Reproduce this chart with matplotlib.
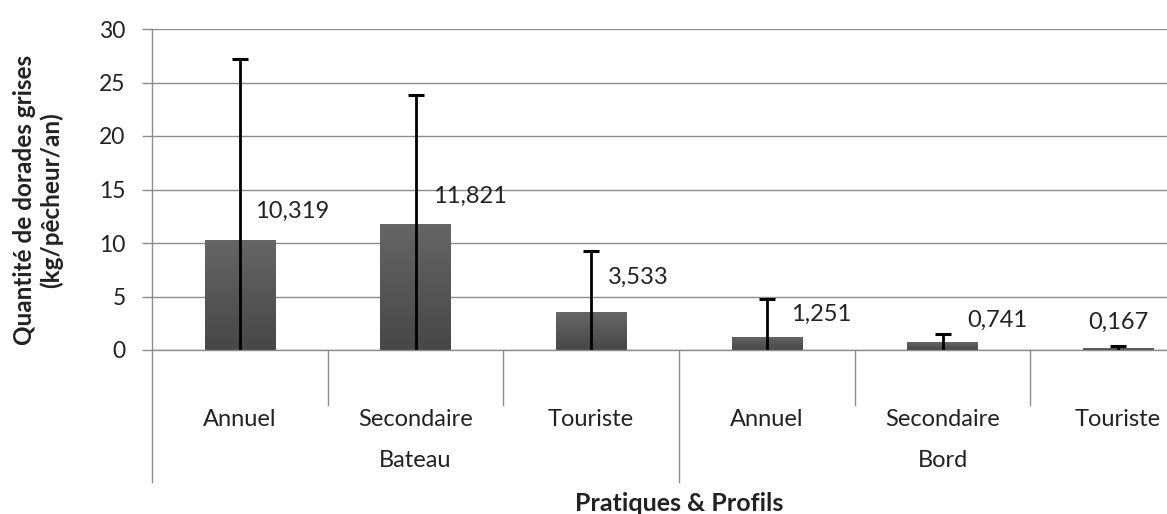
import numpy as np
import matplotlib
matplotlib.use('Agg')
import matplotlib.pyplot as plt
import matplotlib.transforms as mtransforms
from matplotlib.colors import LinearSegmentedColormap

# ---- data ----
groups = ['Bateau', 'Bord']
profiles = ['Annuel', 'Secondaire', 'Touriste']
values = [10.319, 11.821, 3.533, 1.251, 0.741, 0.167]
errors = [16.9, 12.05, 5.75, 3.53, 0.71, 0.23]
value_labels = ['10,319', '11,821', '3,533', '1,251', '0,741', '0,167']
yticks = [0, 5, 10, 15, 20, 25, 30]
y_label = 'Quantité de dorades grises\n(kg/pêcheur/an)'
x_label = 'Pratiques & Profils'

# ---- layout of value labels (offsets from bar centre / top) ----
label_dx = [0.30, 0.31, 0.27, 0.31, 0.31, 0.0]
label_dy = [2.6, 2.5, 3.3, 2.05, 2.05, 2.4]

plt.rcParams['font.family'] = ['Lato', 'DejaVu Sans']
grid_col = '#8c8c8c'
text_col = '#222222'

W, H = 1167, 514
fig = plt.figure(figsize=(W / 100, H / 100), dpi=100)
ax = fig.add_axes([152 / W, 1 - 350 / H, 1054 / W, 321 / H])

n = len(values)
x = np.arange(n)
vals = np.array(values)
errs = np.array(errors)
bw = 0.40

bars = ax.bar(x, vals, width=bw, color='#565656', zorder=2, linewidth=0)
cmap = LinearSegmentedColormap.from_list('g', ['#474747', '#666666'])
grad = np.linspace(0, 1, 256).reshape(-1, 1)
for b in bars:
    x0, y0 = b.get_x(), b.get_y()
    im = ax.imshow(grad, cmap=cmap, origin='lower', aspect='auto',
                   extent=[x0, x0 + b.get_width(), y0, y0 + b.get_height()],
                   zorder=2.1)
    im.set_clip_path(b)

# error bars: line from 0 to value+err with top cap
ax.errorbar(x, vals, yerr=[vals, errs], fmt='none', ecolor='black',
            elinewidth=2, capsize=0, zorder=3)
ax.plot(x, vals + errs, linestyle='none', marker='_', markersize=12,
        markeredgewidth=2.2, color='black', zorder=3)

for xi, v, lab, dx, dy in zip(x, vals, value_labels, label_dx, label_dy):
    ax.text(xi + dx, v + dy, lab, ha='center', va='center', fontsize=17,
            color=text_col, zorder=4)

ax.set_xlim(-0.5, n - 0.5)
ax.set_ylim(0, 30)
ax.set_yticks(yticks)
ax.set_yticklabels([str(t) for t in yticks], fontsize=16.5, color=text_col)
ax.set_xticks([])
ax.yaxis.grid(True, color=grid_col, linewidth=1)
ax.set_axisbelow(True)
for s in ['top', 'right', 'left']:
    ax.spines[s].set_visible(False)
ax.spines['bottom'].set_color(grid_col)
ax.spines['bottom'].set_linewidth(1)
ax.tick_params(axis='y', length=7, color=grid_col, width=1, pad=12)

# multi-level category axis
trans = mtransforms.blended_transform_factory(ax.transData, ax.transAxes)
inner_bottom = -0.171
outer_bottom = -0.411
for i, p in enumerate(profiles * len(groups)):
    ax.text(i, -0.218, p, transform=trans, ha='center', va='center',
            fontsize=17, color=text_col, clip_on=False)
for i in range(1, n):
    if i % len(profiles) == 0:
        continue
    ax.plot([i - 0.5, i - 0.5], [0, inner_bottom], transform=trans,
            color=grid_col, lw=1, clip_on=False)
for g, name in enumerate(groups):
    c = g * len(profiles) + (len(profiles) - 1) / 2
    ax.text(c, -0.343, name, transform=trans, ha='center', va='center',
            fontsize=17, color=text_col, clip_on=False)
    ax.plot([g * len(profiles) - 0.5] * 2, [1, outer_bottom] if g == 0 else [0, outer_bottom],
            transform=trans, color=grid_col, lw=1, clip_on=False)

ax.text(0.5, -0.477, x_label, transform=ax.transAxes, ha='center', va='center',
        fontsize=18, fontweight='bold', color=text_col, clip_on=False)

fig.text(38 / W, 1 - 200 / H, y_label, rotation=90, ha='center', va='center',
         multialignment='center', fontsize=17.5, fontweight='bold', color=text_col,
         linespacing=1.2)

fig.savefig('out.png', dpi=100)
